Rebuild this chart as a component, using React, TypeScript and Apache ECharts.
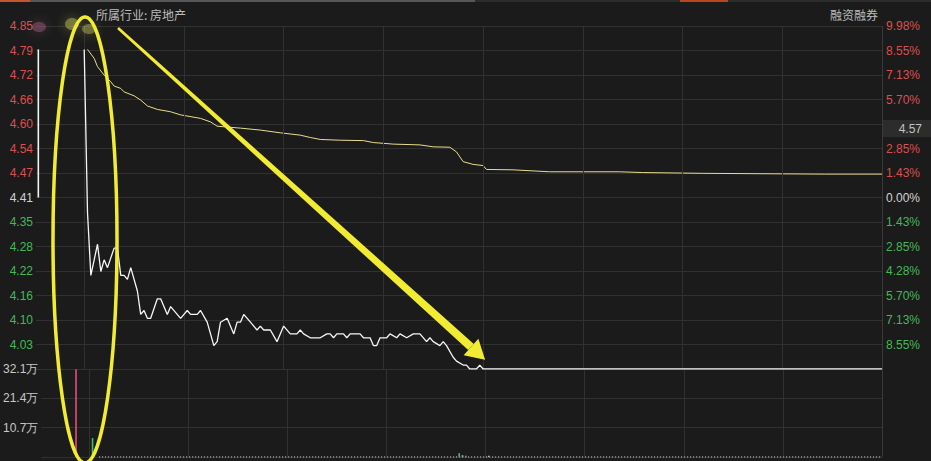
import React, { useEffect, useRef } from "react";
import * as echarts from "echarts";

// ---- data ----
const prevClose = 4.41;
const limitPct = 9.98;
const priceSteps = 7;

// call-auction segment (minutes relative to 9:30)
const auctionMinutes = [-13.8, -13.8];
const auctionPrices = [4.41, 4.79];

// intraday price (minutes from 9:30)
const priceMinutes = [
  0, 1, 2, 4, 5, 6, 7, 9, 10, 11, 12, 13, 14, 16, 17, 18, 19, 20, 22, 23, 25, 26, 29, 31, 32, 34, 35, 37, 39, 40,
  41, 43, 45, 46, 47, 48, 50, 52, 53, 54, 56, 58, 60, 62, 64, 65, 66, 68, 71, 73, 74, 75, 76, 78, 79, 80, 83, 84,
  86, 87, 88, 89, 91, 92, 94, 95, 97, 99, 101, 103, 104, 105, 107, 108, 109, 111, 112, 114, 115, 116, 118, 119,
  120, 240,
];
const priceValues = [
  4.79, 4.37, 4.21, 4.29, 4.22, 4.25, 4.23, 4.28, 4.28, 4.21, 4.21, 4.2, 4.23, 4.17, 4.11, 4.12, 4.1, 4.1, 4.15,
  4.15, 4.11, 4.13, 4.1, 4.12, 4.11, 4.11, 4.12, 4.09, 4.03, 4.04, 4.09, 4.1, 4.06, 4.09, 4.09, 4.11, 4.09, 4.07,
  4.08, 4.07, 4.07, 4.04, 4.08, 4.06, 4.06, 4.07, 4.06, 4.05, 4.05, 4.06, 4.06, 4.05, 4.06, 4.06, 4.05, 4.06,
  4.06, 4.05, 4.05, 4.03, 4.03, 4.05, 4.05, 4.06, 4.05, 4.06, 4.05, 4.06, 4.06, 4.04, 4.05, 4.04, 4.03, 4.04,
  4.03, 4.0, 3.99, 3.98, 3.98, 3.97, 3.97, 3.98, 3.97, 3.97,
];

// average price line
const avgMinutes = [
  1, 3, 4, 6, 8, 9, 11, 12, 15, 17, 19, 22, 26, 29, 35, 38, 40, 47, 53, 59, 65, 68, 71, 77, 84, 87, 93, 101, 105,
  110, 112, 114, 117, 120, 121, 129, 140, 161, 168, 186, 223, 240,
];
const avgValues = [
  4.79, 4.767, 4.746, 4.724, 4.707, 4.696, 4.69, 4.681, 4.671, 4.66, 4.645, 4.636, 4.63, 4.622, 4.613, 4.604,
  4.593, 4.588, 4.583, 4.576, 4.57, 4.564, 4.559, 4.557, 4.556, 4.551, 4.547, 4.545, 4.54, 4.539, 4.527, 4.502,
  4.495, 4.492, 4.482, 4.481, 4.476, 4.476, 4.474, 4.472, 4.47, 4.47,
];

// volume (万股)
const volMinutes = [-4, 1, 112, 113, 114, 121];
const volValues = [32.0, 6.9, 1.4, 0.6, 0.5, 0.5];
const volDirections = ["up", "down", "down", "flat", "down", "flat"];
const volMax = 32.1;
const volInterval = 10.7;

// vertical time grid (minutes from 9:30)
const gridMinutes = [0, 30, 60, 90, 120, 150, 180, 210, 240];

const industryText = "所属行业: 房地产";
const marginText = "融资融券";
const cursorPriceText = "4.57";

// ---- helpers ----
const step = (prevClose * limitPct) / 100 / priceSteps;
const toStep = (p: number) => (p - prevClose) / step;

const RED = "#dc4f4f";
const GREEN = "#44b957";
const NEUTRAL = "#d2d2d2";
const GRID = "#313131";
const BG = "#1b1b1b";
const YELLOW = "#f1ec33";

const dirColor: Record<string, string> = { up: "#e0507a", down: "#3fc35e", flat: "#d8d8d8" };

function arrowShapes() {
  const S = [118, 28];
  const E = [471, 347];
  const dx = E[0] - S[0];
  const dy = E[1] - S[1];
  const len = Math.hypot(dx, dy);
  const d = [dx / len, dy / len];
  const n = [-d[1], d[0]];
  const w0 = 1.3;
  const w1 = 4.2;
  const hw = 11;
  const hl = 19;
  const shaft = [
    [S[0] + n[0] * w0, S[1] + n[1] * w0],
    [E[0] + n[0] * w1, E[1] + n[1] * w1],
    [E[0] - n[0] * w1, E[1] - n[1] * w1],
    [S[0] - n[0] * w0, S[1] - n[1] * w0],
  ];
  const head = [
    [E[0] + n[0] * hw, E[1] + n[1] * hw],
    [E[0] + d[0] * hl, E[1] + d[1] * hl],
    [E[0] - n[0] * hw, E[1] - n[1] * hw],
  ];
  return { shaft, head };
}

export default function App() {
  const ref = useRef<HTMLDivElement>(null);

  useEffect(() => {
    if (!ref.current) return;
    const chart = echarts.init(ref.current, undefined, { renderer: "svg" });
    const { shaft, head } = arrowShapes();

    const vLines: any[] = gridMinutes.map((m) => ({
      xAxis: m,
      lineStyle: { color: m === 240 ? "#3a3a3a" : GRID, width: 1, type: "solid" },
    }));

    const labelColor = (v: any) => {
      const n = Number(v);
      return n > 0 ? RED : n < 0 ? GREEN : NEUTRAL;
    };

    const option: any = {
      animation: false,
      backgroundColor: BG,
      textStyle: { fontFamily: "'Liberation Sans', Arial, sans-serif" },
      grid: [
        { left: 36, right: 49, top: 26, height: 343 },
        { left: 36, right: 49, top: 369, height: 88 },
      ],
      xAxis: [
        { type: "value", gridIndex: 0, min: -14.5, max: 240, show: false },
        { type: "value", gridIndex: 1, min: -14.5, max: 240, show: false },
      ],
      yAxis: [
        {
          type: "value",
          gridIndex: 0,
          min: -priceSteps,
          max: priceSteps,
          interval: 1,
          position: "left",
          axisLine: { show: false },
          axisTick: { show: false },
          splitLine: { show: true, lineStyle: { color: GRID, width: 1 } },
          axisLabel: {
            margin: 3,
            fontSize: 12,
            formatter: (v: number) => (v <= -priceSteps ? "" : (prevClose + v * step).toFixed(2)),
            color: labelColor,
          },
        },
        {
          type: "value",
          gridIndex: 0,
          min: -priceSteps,
          max: priceSteps,
          interval: 1,
          position: "right",
          axisLine: { show: false },
          axisTick: { show: false },
          splitLine: { show: false },
          axisLabel: {
            margin: 4,
            fontSize: 12,
            formatter: (v: number) =>
              v <= -priceSteps || v === 3 ? "" : ((Math.abs(v) * limitPct) / priceSteps).toFixed(2) + "%",
            color: labelColor,
          },
        },
        {
          type: "value",
          gridIndex: 1,
          min: 0,
          max: volMax,
          interval: volInterval,
          position: "left",
          axisLine: { show: false },
          axisTick: { show: false },
          splitLine: { show: true, lineStyle: { color: GRID, width: 1 } },
          axisLabel: {
            margin: 3,
            fontSize: 12,
            color: "#c8c8c8",
            formatter: (v: number) => (v <= 0 ? "" : v.toFixed(1) + "万"),
          },
        },
      ],
      series: [
        {
          name: "priceGrid",
          type: "line",
          xAxisIndex: 0,
          yAxisIndex: 0,
          z: 1,
          symbol: "none",
          silent: true,
          data: priceMinutes.map((m) => [m, 0]),
          lineStyle: { opacity: 0 },
          markLine: {
            silent: true,
            symbol: ["none", "none"],
            label: { show: false },
            data: vLines,
          },
        },
        {
          name: "auction",
          type: "custom",
          xAxisIndex: 0,
          yAxisIndex: 0,
          z: 8,
          clip: false,
          data: [[auctionMinutes[0], toStep(auctionPrices[0]), auctionMinutes[1], toStep(auctionPrices[1])]],
          renderItem: (params: any, api: any) => {
            const a = api.coord([api.value(0), api.value(1)]);
            const b = api.coord([api.value(2), api.value(3)]);
            return {
              type: "rect",
              shape: { x: a[0] - 0.8, y: b[1], width: 1.6, height: a[1] - b[1] },
              style: { fill: "#f4f4f4" },
            };
          },
        },
        {
          name: "avg",
          type: "line",
          xAxisIndex: 0,
          yAxisIndex: 0,
          z: 3,
          symbol: "none",
          data: avgMinutes.map((m, i) => [m, toStep(avgValues[i])]),
          lineStyle: { color: "#e9dd8c", width: 1 },
        },
        {
          name: "price",
          type: "line",
          xAxisIndex: 0,
          yAxisIndex: 0,
          z: 6,
          clip: false,
          symbol: "none",
          data: priceMinutes.map((m, i) => [m, toStep(priceValues[i])]),
          lineStyle: { color: "#f6f6f6", width: 1.3 },
        },
        {
          name: "volGrid",
          type: "line",
          xAxisIndex: 1,
          yAxisIndex: 2,
          z: 1,
          symbol: "none",
          silent: true,
          data: volMinutes.map((m) => [m, 0]),
          lineStyle: { opacity: 0 },
          markLine: {
            silent: true,
            symbol: ["none", "none"],
            label: { show: false },
            data: [
              ...vLines,
              [
                { coord: [3, 0.25], lineStyle: { color: "#8e8492", width: 2, type: [1, 2] } },
                { coord: [240, 0.25] },
              ],
            ],
          },
        },
        {
          name: "volume",
          type: "custom",
          xAxisIndex: 1,
          yAxisIndex: 2,
          z: 3,
          data: volMinutes.map((m, i) => [m, volValues[i], i]),
          renderItem: (params: any, api: any) => {
            const base = api.coord([api.value(0), 0]);
            const top = api.coord([api.value(0), api.value(1)]);
            const idx = api.value(2);
            return {
              type: "rect",
              shape: { x: base[0] - 0.8, y: top[1], width: 1.6, height: base[1] - top[1] },
              style: { fill: dirColor[volDirections[idx]] },
            };
          },
        },
      ],
      graphic: [
        { type: "rect", z: 50, shape: { x: 0, y: 0, width: 931, height: 2 }, style: { fill: "#2c2c2c" } },
        { type: "rect", z: 51, shape: { x: 30, y: 0, width: 445, height: 2 }, style: { fill: "#575757" } },
        { type: "rect", z: 51, shape: { x: 0, y: 0, width: 30, height: 2 }, style: { fill: "#c4552e" } },
        { type: "rect", z: 51, shape: { x: 680, y: 0, width: 48, height: 2 }, style: { fill: "#b8461f" } },
        {
          type: "text",
          z: 60,
          x: 96,
          y: 14,
          style: { text: industryText, fill: "#bcbcbc", font: "12px 'Noto Sans CJK SC'", verticalAlign: "middle" },
        },
        {
          type: "text",
          z: 60,
          x: 878,
          y: 14,
          style: {
            text: marginText,
            fill: "#bcbcbc",
            font: "12px 'Noto Sans CJK SC'",
            align: "right",
            verticalAlign: "middle",
          },
        },
        { type: "rect", z: 60, shape: { x: 883, y: 120, width: 48, height: 17 }, style: { fill: "#2c2c2c" } },
        {
          type: "text",
          z: 61,
          x: 922,
          y: 129,
          style: {
            text: cursorPriceText,
            fill: "#c2c2c2",
            font: "12px 'Liberation Sans'",
            align: "right",
            verticalAlign: "middle",
          },
        },
        // blurred (mosaic) name area
        {
          type: "ellipse",
          z: 70,
          shape: { cx: 39, cy: 27, rx: 7, ry: 5 },
          style: { fill: "rgba(175,100,140,0.4)", shadowBlur: 12, shadowColor: "rgba(175,100,140,0.8)" },
        },
        {
          type: "ellipse",
          z: 70,
          shape: { cx: 72, cy: 24, rx: 7, ry: 6 },
          style: { fill: "rgba(200,200,90,0.45)", shadowBlur: 12, shadowColor: "rgba(200,200,90,0.8)" },
        },
        {
          type: "ellipse",
          z: 70,
          shape: { cx: 89, cy: 29, rx: 7, ry: 5 },
          style: { fill: "rgba(200,200,100,0.4)", shadowBlur: 12, shadowColor: "rgba(200,200,100,0.8)" },
        },
        // annotation: ellipse and arrow
        {
          type: "ellipse",
          z: 100,
          shape: { cx: 85, cy: 240, rx: 32, ry: 223 },
          style: { fill: "none", stroke: YELLOW, lineWidth: 3.5 },
        },
        { type: "polygon", z: 100, shape: { points: shaft }, style: { fill: YELLOW } },
        { type: "polygon", z: 100, shape: { points: head }, style: { fill: YELLOW } },
      ],
    };

    chart.setOption(option);
    return () => chart.dispose();
  }, []);

  return (
    <div
      ref={ref}
      style={{ position: "fixed", left: 0, top: 0, width: 931, height: 461, background: BG }}
    />
  );
}
